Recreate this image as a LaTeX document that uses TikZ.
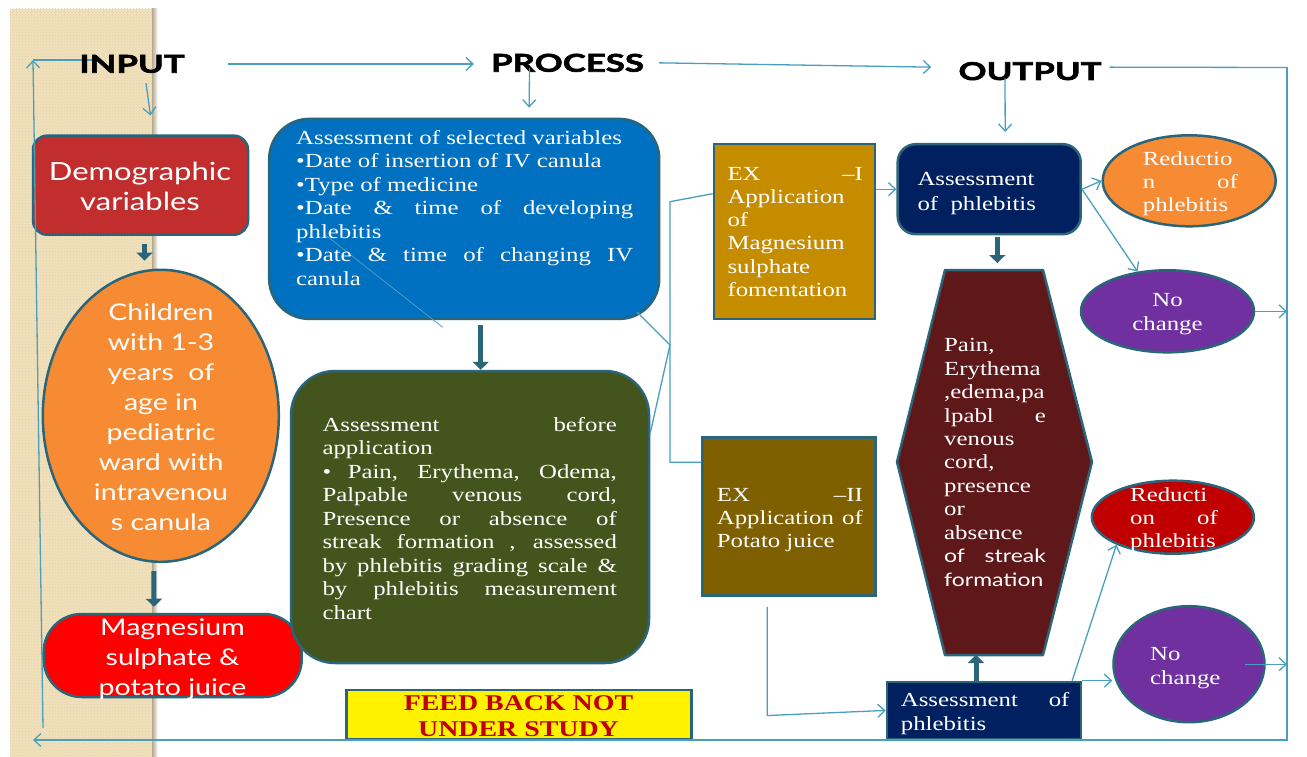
\documentclass[tikz,border=0pt]{standalone}
\usepackage{fontspec}
\setmainfont{Liberation Serif}[FakeStretch=1.24]
\newfontfamily\gill{Lato}[FakeStretch=1.24]
\newfontfamily\headf{Lato}[FakeStretch=1.42,BoldFeatures={FakeBold=2.5}]
\usetikzlibrary{arrows.meta,shapes.geometric,patterns}
\definecolor{bord}{RGB}{42,101,122}
\definecolor{lnk}{RGB}{72,160,190}
\definecolor{beige}{RGB}{240,225,188}
\definecolor{beiged}{RGB}{228,210,166}
\definecolor{democ}{RGB}{194,46,46}
\definecolor{orangec}{RGB}{246,139,51}
\definecolor{bluec}{RGB}{0,112,192}
\definecolor{greenc}{RGB}{67,84,28}
\definecolor{goldc}{RGB}{197,140,0}
\definecolor{brownc}{RGB}{127,96,0}
\definecolor{navyc}{RGB}{0,32,96}
\definecolor{hexc}{RGB}{95,24,26}
\definecolor{redc}{RGB}{192,0,0}
\definecolor{purpc}{RGB}{112,48,160}
\definecolor{fbred}{RGB}{192,0,0}
\newcommand{\jline}[1]{\makebox[\linewidth][s]{#1}}
\begin{document}
\begin{tikzpicture}[x=1pt,y=-1pt,
  shp/.style={draw=bord,line width=2.5pt,inner sep=0pt},
  txt/.style={inner sep=0pt,text=white,anchor=base west},
  ser/.style={font=\fontsize{20}{23.5}\selectfont},
  head/.style={inner sep=0pt,anchor=base,font=\headf\bfseries\fontsize{24.5}{24.5}\selectfont},
  conn/.style={draw=lnk,line width=1.3pt},
  arr/.style={conn,-{Straight Barb[length=7pt,width=13pt]}},
  thk/.style={draw=bord,line width=5pt,-{Triangle[length=8pt,width=16pt]}}]
\useasboundingbox (0,0) rectangle (1307,757);
\fill[white] (0,0) rectangle (1307,757);
% beige strip
\fill[beige] (10,9) rectangle (153,757);
\fill[pattern=crosshatch dots,pattern color=beiged] (10,9) rectangle (153,757);
\shade[left color=beige!75!black,right color=white] (152,9) rectangle (158,757);

% shapes
\node[shp,fill=democ,rounded corners=14pt,minimum width=215pt,minimum height=99pt] (demo) at (140.5,185.2) {};
\node[shp,ellipse,fill=orangec,minimum width=236pt,minimum height=292pt] (child) at (160.8,415.8) {};
\node[shp,fill=red,rounded corners=38pt,minimum width=258pt,minimum height=83pt] (mag) at (172.7,655.5) {};
\node[shp,fill=bluec,rounded corners=40pt,minimum width=390pt,minimum height=200pt] (blue) at (464.2,218.9) {};
\node[shp,fill=greenc,rounded corners=44pt,minimum width=358pt,minimum height=292pt] (green) at (470,517) {};
\node[shp,fill=goldc,minimum width=161pt,minimum height=175pt] (ex1) at (794.4,231.7) {};
\node[shp,fill=brownc,minimum width=173pt,minimum height=158pt] (ex2) at (789.2,516.7) {};
\node[shp,fill=navyc,rounded corners=18pt,minimum width=183pt,minimum height=90pt] (asm1) at (989.2,189.2) {};
\node[shp,ellipse,fill=orangec,minimum width=173pt,minimum height=91pt] (red1) at (1189.2,180.8) {};
\node[shp,ellipse,fill=purpc,minimum width=173pt,minimum height=82pt] (nc1) at (1167.5,311.3) {};
\node[shp,fill=navyc,minimum width=194pt,minimum height=57pt] (asm2) at (983.9,710.4) {};
\node[shp,ellipse,fill=redc,minimum width=162pt,minimum height=73pt] (red2) at (1172.9,517.2) {};
\node[shp,ellipse,fill=purpc,minimum width=151pt,minimum height=116pt] (nc2) at (1189,664.2) {};
\node[shp,fill=yellow,minimum width=345pt,minimum height=49pt] (fb) at (518.8,714.7) {};
\draw[shp,fill=hexc,line join=round] (945,270) -- (1043,270) -- (1092,462) -- (1043,655) -- (945,655) -- (897,462) -- cycle;
\coordinate (hexT) at (997.3,270);
\coordinate (hexB) at (976,655);

% frame coordinates
\coordinate (fbTR) at (1287,67.5);
\coordinate (fbBR) at (1287,740);
\coordinate (fbBL) at (33,740);
\coordinate (fbLB) at (43,728);
\coordinate (fbLT) at (33,60);
\coordinate (inpL) at (97,60);
\coordinate (fbR1) at (1287,311.3);
\coordinate (fbR2) at (1287,664.2);
\coordinate (brJ) at (670,345);
\coordinate (brT) at (670,201.7);
\coordinate (brB) at (670,462.3);
\coordinate (blueC) at (637,312);
\coordinate (stray1) at (323.3,233.3);
\coordinate (stray2) at (442.7,327.3);

% headings
\draw[conn] (fbLT) -- (inpL);
\node[head] (input) at (132,72.7) {INPUT};
\node[head] (process) at (567.5,71.7) {PROCESS};
\node[head] (output) at (1030,80) {OUTPUT};

% connectors
\draw[arr] ([xshift=43pt]input.east) -- ([xshift=-17pt]process.west |- input.east);
\draw[arr] ([xshift=15pt]process.east) -- ([xshift=-27pt,yshift=4pt]output.west);
\draw[conn] ([xshift=8pt,yshift=4pt]output.east) -- (fbTR);
\draw[arr] (fbTR) -- (fbBR) -- (fbBL);
\draw[arr] (fbLB) -- (fbLT);
\draw[arr] ([xshift=14pt,yshift=-10pt]input.south) -- ([xshift=10pt,yshift=19pt]demo.north);
\draw[arr] ([xshift=-38pt,yshift=4pt]process.south) -- ([xshift=65pt,yshift=10pt]blue.north);
\draw[arr] ([xshift=-25pt,yshift=2pt]output.south) -- ([xshift=16pt,yshift=11pt]asm1.north);
\draw[conn,line width=0.8pt] (stray1) -- (stray2);
\draw[conn] (blueC) -- (brJ) -- ([yshift=84pt]green.east);
\draw[conn] ([yshift=38pt]ex1.west) -- (brT) -- (brB) -- (ex2.west |- brB);
\draw[arr] (ex1.east |- asm1.west) -- (asm1.west);
\draw[arr] (asm1.east) -- (red1.west);
\draw[arr] (asm1.east) -- (nc1.127);
\draw[arr] (nc1.east) -- (fbR1);
\draw[arr] ([xshift=-22pt,yshift=-10pt]ex2.south) -- ++(0,108.6) -- (asm2.west);
\draw[arr] ([xshift=-10pt]asm2.north east) -- (red2.206);
\draw[arr] (asm2.north east) -- (asm2.north east -| nc2.west);
\draw[arr] ([xshift=-21pt]nc2.east) -- (fbR2);

% thick arrows
\draw[thk] ([xshift=4pt,yshift=-8pt]demo.south) -- ([xshift=-16.3pt,yshift=8pt]child.north);
\draw[thk] ([xshift=-7pt,yshift=-8pt]child.south) -- ([xshift=-18.7pt,yshift=6pt]mag.north);
\draw[thk] ([xshift=16.5pt,yshift=-5pt]blue.south) -- ([xshift=10.7pt]green.north);
\draw[thk,shorten >=7pt] ([xshift=8.1pt,yshift=-2pt]asm1.south) -- (hexT);
\draw[thk] ([xshift=-7.9pt]asm2.north) -- (hexB);

% texts
\node[txt,anchor=base,font=\gill\fontsize{25}{30}\selectfont] (demoT) at (140,180) {\parbox[t]{200pt}{\centering Demographic\\variables}};
\node[txt,anchor=base,font=\gill\fontsize{23}{30}\selectfont] (childT) at (161,320) {\parbox[t]{170pt}{\centering Children\\with 1-3\\years\ \ of\\age in\\pediatric\\ward with\\intravenou\\s canula}};
\node[txt,anchor=base,font=\gill\fontsize{23}{30}\selectfont] (magT) at (172.5,635) {\parbox[t]{220pt}{\centering Magnesium\\sulphate \&\\potato juice}};
\node[txt,ser] (blueT) at (296,144.3) {\parbox[t]{337pt}{Assessment of selected variables\\•Date of insertion of IV canula\\•Type of medicine\\\jline{•Date \& time of developing}\\phlebitis\\\jline{•Date \& time of changing IV}\\canula}};
\node[txt,ser] (greenT) at (322.3,431) {\parbox[t]{294.4pt}{\jline{Assessment before}\\application\\\jline{• Pain, Erythema, Odema,}\\\jline{Palpable venous cord,}\\\jline{Presence or absence of}\\\jline{streak formation , assessed}\\\jline{by phlebitis grading scale \&}\\\jline{by phlebitis measurement}\\chart}};
\node[txt,font=\fontsize{20}{23.3}\selectfont] (ex1T) at (727.3,180) {\parbox[t]{135.4pt}{EX\hfill –I\\Application\\of\\Magnesium\\sulphate\\fomentation}};
\node[txt,font=\fontsize{20}{23.3}\selectfont] (ex2T) at (716.7,501) {\parbox[t]{146pt}{EX\hfill –II\\\jline{Application of}\\Potato juice}};
\node[txt,font=\fontsize{20}{24.3}\selectfont] (asm1T) at (917.3,185.7) {\parbox[t]{150pt}{Assessment\\of\ \ phlebitis}};
\node[txt,font=\fontsize{20}{23.3}\selectfont] (red1T) at (1142.7,165) {\parbox[t]{95pt}{Reductio\\n\hfill of\\phlebitis}};
\node[txt,anchor=base,font=\fontsize{20}{23.3}\selectfont] (nc1T) at (1167.5,306.7) {\parbox[t]{120pt}{\centering No\\change}};
\node[txt,font=\fontsize{20}{23.45}\selectfont] (hexTx) at (944,351.7) {\parbox[t]{101.7pt}{Pain,\\Erythema\\,edema,pa\\lpabl\hfill e\\venous\\cord,\\presence\\or\\absence\\{\gill\fontsize{18.5}{23.45}\selectfont of\hfill streak}\\{\gill\fontsize{18.5}{23.45}\selectfont formation}}};
\node[txt,font=\fontsize{20}{24}\selectfont] (asm2T) at (900.7,706) {\parbox[t]{168.6pt}{\jline{Assessment of}\\phlebitis}};
\node[txt,font=\fontsize{20}{23.2}\selectfont] (red2T) at (1130,501) {\parbox[t]{87.7pt}{Reducti\\on\hfill of\\phlebitis}};
\node[txt,font=\fontsize{20}{24.3}\selectfont] (nc2T) at (1150,660) {\parbox[t]{100pt}{No\\change}};
\node[inner sep=0pt,anchor=base,text=fbred,font=\bfseries\fontsize{22.5}{26.7}\selectfont] (fbT) at (518.5,710) {\parbox[t]{320pt}{\centering FEED BACK NOT\\UNDER STUDY}};
\end{tikzpicture}
\end{document}
